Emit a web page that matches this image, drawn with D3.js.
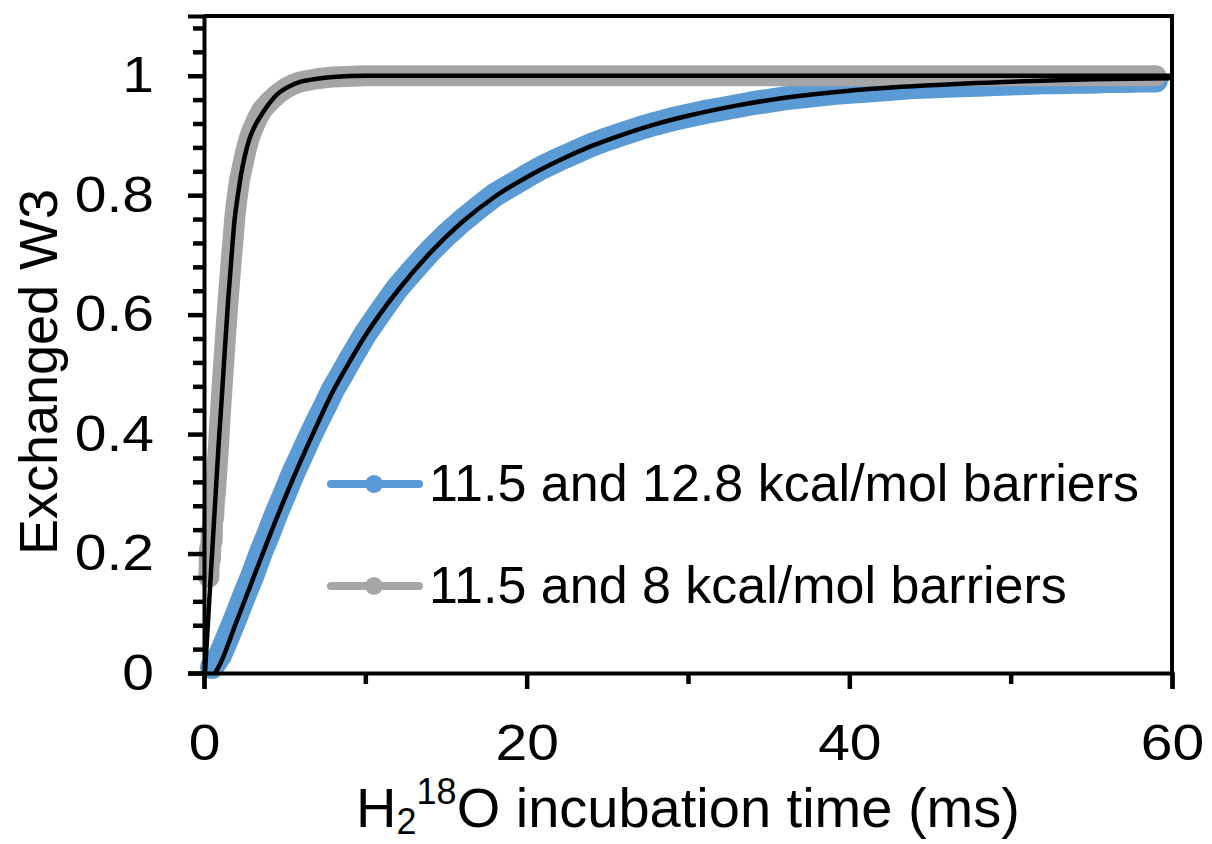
<!DOCTYPE html>
<html>
<head>
  <meta charset="utf-8">
  <title>Exchanged W3</title>
  <script src="https://cdn.jsdelivr.net/npm/d3@7"></script>
  <style>
    body { margin: 0; background: #fff; }
    text { font-family: "Liberation Sans", Arial, sans-serif; fill: #000; }
  </style>
</head>
<body>
  <script>
    // size of the page
    const w = 1212;
    const h = 844;

    // blue data: 11.5 and 12.8 kcal/mol barriers
    const blueT = [0.5, 1, 1.5, 2, 2.5, 3, 3.5, 4, 4.5, 5, 5.5, 6, 6.5, 7, 7.5, 8, 8.5, 9, 9.5, 10,
      11, 12, 13, 14, 15, 16, 17, 18, 19, 20, 21, 22, 23, 24, 25, 26, 27, 28, 29, 30,
      31, 32, 33, 34, 35, 36, 37, 38, 39, 40, 41, 42, 43, 44, 45, 46, 47, 48, 49, 50,
      51, 52, 53, 54, 55, 56, 57, 58, 59];
    const blueV = [0.01, 0.03, 0.062, 0.095, 0.13, 0.163, 0.2, 0.233, 0.268, 0.3, 0.333, 0.362, 0.392, 0.42, 0.447, 0.475, 0.498, 0.522, 0.545, 0.568,
      0.607, 0.645, 0.676, 0.706, 0.733, 0.757, 0.779, 0.8, 0.816, 0.832, 0.847, 0.86, 0.872, 0.884, 0.894, 0.903, 0.912, 0.92, 0.927, 0.933,
      0.939, 0.944, 0.949, 0.954, 0.958, 0.962, 0.965, 0.968, 0.971, 0.973, 0.975, 0.977, 0.979, 0.981, 0.982, 0.983, 0.984, 0.985, 0.986, 0.987,
      0.988, 0.989, 0.989, 0.99, 0.99, 0.991, 0.991, 0.992, 0.992];

    // gray data: 11.5 and 8 kcal/mol barriers
    const grayT = [0.3, 0.35, 0.4, 0.45, 0.5, 0.55, 0.6, 0.65, 0.7, 0.8, 0.9, 1.0, 1.1, 1.2, 1.3, 1.4, 1.5, 1.6, 1.7, 1.8,
      1.9, 2.0, 2.2, 2.4, 2.6, 2.8, 3.0, 3.3, 3.6, 4, 4.5, 5, 5.5, 6, 7, 8, 10, 15, 20, 30, 40, 50, 59];
    const grayV = [0.16, 0.21, 0.19, 0.24, 0.22, 0.27, 0.26, 0.29, 0.3, 0.34, 0.38, 0.43, 0.47, 0.51, 0.55, 0.59, 0.625, 0.66, 0.695, 0.725,
      0.76, 0.785, 0.825, 0.85, 0.875, 0.895, 0.91, 0.928, 0.943, 0.955, 0.968, 0.978, 0.985, 0.99, 0.995, 0.998, 1, 1, 1, 1, 1, 1, 1];

    // black fitted curves
    const blueFitT = [0.7, 1, 2, 3, 4, 5, 6, 7, 8, 9, 10, 12, 14, 16, 18, 20, 22, 24, 26, 28, 30, 33, 36, 40, 45, 50, 55, 60];
    const blueFitV = [0, 0.015, 0.085, 0.155, 0.225, 0.292, 0.355, 0.415, 0.472, 0.52, 0.565, 0.64, 0.703, 0.755, 0.797, 0.83, 0.858, 0.882, 0.902, 0.919, 0.933, 0.95, 0.963, 0.975, 0.984, 0.99, 0.994, 0.996];
    const grayFitT = [0.06, 0.3, 0.5, 0.7, 0.9, 1.1, 1.3, 1.5, 1.7, 1.9, 2.1, 2.3, 2.5, 2.8, 3.1, 3.5, 4, 4.5, 5, 5.5, 6, 7, 8, 10, 60];
    const grayFitV = [0, 0.11, 0.2, 0.29, 0.38, 0.46, 0.545, 0.625, 0.695, 0.76, 0.8, 0.835, 0.862, 0.893, 0.913, 0.932, 0.952, 0.968, 0.978, 0.985, 0.99, 0.995, 0.998, 1, 1];

    // axis ticks
    const xMajor = [0, 20, 40, 60];
    const xMinor = [10, 30, 50];
    const yMajor = [0, 0.2, 0.4, 0.6, 0.8, 1];
    const yMinor = [0.04, 0.08, 0.12, 0.16, 0.24, 0.28, 0.32, 0.36, 0.44, 0.48, 0.52, 0.56,
      0.64, 0.68, 0.72, 0.76, 0.84, 0.88, 0.92, 0.96, 1.04, 1.08];

    const legendNames = ["11.5 and 12.8 kcal/mol barriers", "11.5 and 8 kcal/mol barriers"];
    const colors = ["#5B9BD5", "#A5A5A5"];
    const bandWidths = [24, 21]; // dense markers look like a thick band

    const xScale = d3.scaleLinear().domain([0, 60]).range([204, 1172]);
    const yScale = d3.scaleLinear().domain([0, 1.1]).range([673, 16]);

    const svg = d3.select("body").append("svg")
      .attr("width", w)
      .attr("height", h);

    const zip = (a, b) => a.map((t, i) => [t, b[i]]);

    // data bands
    const dataLine = d3.line()
      .x(d => xScale(d[0]))
      .y(d => yScale(d[1]));

    [zip(blueT, blueV), zip(grayT, grayV)].forEach((pts, i) => {
      svg.append("path")
        .datum(pts)
        .attr("d", dataLine)
        .attr("fill", "none")
        .attr("stroke", colors[i])
        .attr("stroke-width", bandWidths[i])
        .attr("stroke-linecap", "round")
        .attr("stroke-linejoin", "round");
    });

    // fitted curves
    const fitLine = d3.line()
      .curve(d3.curveMonotoneX)
      .x(d => xScale(d[0]))
      .y(d => yScale(d[1]));

    [zip(blueFitT, blueFitV), zip(grayFitT, grayFitV)].forEach(pts => {
      svg.append("path")
        .datum(pts)
        .attr("d", fitLine)
        .attr("fill", "none")
        .attr("stroke", "#000")
        .attr("stroke-width", 4.5);
    });

    // plot frame (top and right)
    svg.append("path")
      .attr("d", "M" + xScale(0) + "," + yScale(1.1) + "H" + xScale(60) + "V" + yScale(0))
      .attr("fill", "none")
      .attr("stroke", "#000")
      .attr("stroke-width", 4);

    // y axis
    svg.append("g")
      .attr("class", "major")
      .attr("transform", "translate(" + xScale(0) + ",0)")
      .call(d3.axisLeft(yScale).tickValues(yMajor).tickSize(16).tickPadding(34)
        .tickFormat(d => d3.format("")(d)));
    svg.append("g")
      .attr("transform", "translate(" + xScale(0) + ",0)")
      .call(d3.axisLeft(yScale).tickValues(yMinor).tickSize(11).tickFormat(""))
      .call(g => g.select(".domain").remove());

    // x axis
    svg.append("g")
      .attr("class", "major")
      .attr("transform", "translate(0," + yScale(0) + ")")
      .call(d3.axisBottom(xScale).tickValues(xMajor).tickSize(16).tickPadding(35));
    svg.append("g")
      .attr("transform", "translate(0," + yScale(0) + ")")
      .call(d3.axisBottom(xScale).tickValues(xMinor).tickSize(11).tickFormat(""))
      .call(g => g.select(".domain").remove());

    svg.selectAll(".domain").attr("stroke", "#000").attr("stroke-width", 4);
    svg.selectAll(".tick line").attr("stroke", "#000").attr("stroke-width", 4.5);
    // tick labels in the original are a bit wider than Liberation Sans
    svg.selectAll(".major .tick text")
      .attr("font-size", 50).attr("fill", "#000")
      .attr("font-family", "'Liberation Sans', Arial, sans-serif")
      .each(function () {
        const len = this.getComputedTextLength();
        d3.select(this)
          .attr("textLength", len * 1.14)
          .attr("lengthAdjust", "spacingAndGlyphs");
      });

    // axis titles
    svg.append("text")
      .attr("transform", "translate(57,372) rotate(-90)")
      .attr("text-anchor", "middle")
      .attr("font-size", 54)
      .text("Exchanged W3");

    const xt = svg.append("text")
      .attr("x", 688)
      .attr("y", 827)
      .attr("text-anchor", "middle")
      .attr("font-size", 56);
    xt.append("tspan").text("H");
    xt.append("tspan").attr("font-size", 36).attr("dy", 7).text("2");
    xt.append("tspan").attr("font-size", 36).attr("dy", -30).text("18");
    xt.append("tspan").attr("dy", 23).text("O incubation time (ms)");

    // legend
    const legendY = [484, 586];
    legendNames.forEach((name, i) => {
      const g = svg.append("g").attr("transform", "translate(0," + legendY[i] + ")");
      g.append("line")
        .attr("x1", 331).attr("x2", 419)
        .attr("stroke", colors[i])
        .attr("stroke-width", 8)
        .attr("stroke-linecap", "round");
      g.append("circle")
        .attr("cx", 374).attr("r", 9)
        .attr("fill", colors[i]);
      g.append("text")
        .attr("x", 429)
        .attr("y", 17)
        .attr("font-size", 52)
        .text(name);
    });
  </script>
</body>
</html>
